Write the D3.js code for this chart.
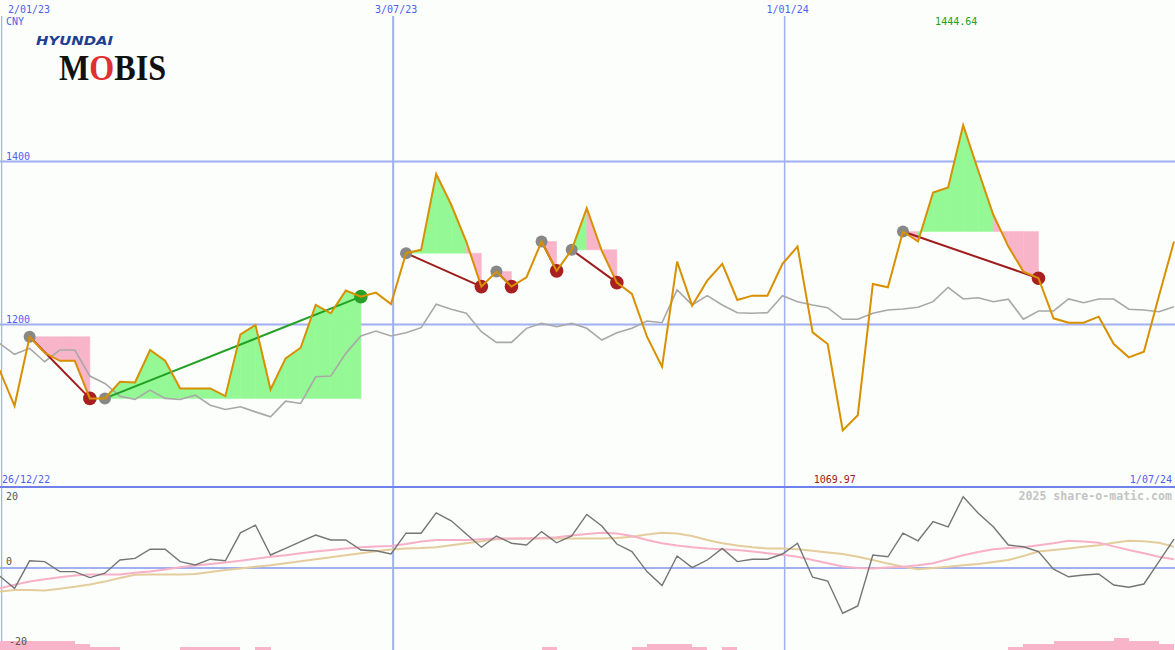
<!DOCTYPE html>
<html><head><meta charset="utf-8">
<script src="https://cdn.jsdelivr.net/npm/d3@7"></script>
<style>html,body{margin:0;padding:0;background:#fbfefb;}svg{display:block;}</style>
</head><body>
<svg id="c" width="1175" height="650"></svg>
<script>
// ---- data ----
const firstWeek = new Date(2023, 0, 1);
const nWeeks = 79;
const price = [1144.1,1100.2,1185.0,1165.3,1155.5,1155.5,1109.3,1109.3,1129.7,1128.9,
 1168.7,1155.5,1121.6,1121.6,1121.6,1112.1,1188.0,1199.4,1120.3,1158.4,
 1171.5,1224.0,1213.8,1241.6,1234.2,1239.1,1225.2,1287.5,1291.6,1384.6,
 1346.9,1301.8,1246.5,1264.9,1246.5,1258.0,1301.8,1265.8,1291.6,1342.8,
 1290.4,1251.4,1237.5,1185.0,1148.1,1277.2,1223.1,1253.8,1274.4,1230.1,
 1235.4,1235.4,1274.4,1295.6,1190.4,1176.0,1069.97,1088.7,1249.8,1245.7,
 1314.1,1301.8,1362.0,1368.2,1444.64,1388.7,1334.6,1295.6,1264.9,1256.8,
 1207.6,1202.2,1202.2,1209.6,1176.0,1159.7,1166.6,1235.0,1301.8];
const avgLine = [1176.9,1163.4,1170.7,1154.3,1168.7,1168.7,1136.7,1127.7,1112.1,1108.0,
 1119.5,1109.3,1108.0,1113.3,1101.0,1095.8,1099.0,1092.8,1086.7,1106.0,
 1103.1,1135.8,1136.7,1164.6,1185.9,1192.0,1185.9,1189.9,1196.1,1224.8,
 1218.7,1213.8,1191.1,1178.1,1178.1,1195.3,1201.5,1197.3,1201.5,1195.3,
 1180.9,1189.9,1195.3,1204.3,1202.2,1242.4,1224.0,1235.4,1224.0,1214.5,
 1213.8,1214.5,1235.4,1228.0,1224.0,1220.7,1206.4,1206.4,1213.8,1217.8,
 1219.1,1221.1,1228.0,1245.7,1231.3,1232.9,1228.0,1231.0,1206.4,1216.6,
 1216.6,1231.3,1226.8,1231.3,1231.3,1218.7,1217.8,1215.7,1221.9];
const momentum = [-2.0,-5.1,1.8,1.6,-0.9,-0.9,-2.4,-1.3,2.0,2.4,
 4.7,4.7,1.6,0.75,2.2,1.8,8.8,10.7,3.25,4.9,
 6.6,8.25,7.0,7.0,4.5,4.3,3.5,8.7,8.7,13.8,
 11.8,8.5,5.2,8.0,6.2,5.75,9.1,6.3,8.0,13.4,
 10.5,6.0,4.1,-0.9,-4.4,3.0,0.1,2.0,4.9,1.6,
 2.2,2.2,3.5,6.2,-2.3,-3.25,-11.3,-9.5,3.25,2.8,
 8.7,6.8,11.6,10.3,17.8,13.7,10.3,5.75,5.3,4.1,
 -0.3,-2.2,-1.75,-1.5,-4.25,-4.8,-4.0,1.6,7.2];
const signalFast = [-5.1,-4.2,-3.4,-2.8,-2.3,-1.9,-1.6,-1.6,-1.6,-1.2,
 -0.9,-0.4,0.2,0.6,1.0,1.4,1.8,2.3,2.8,3.2,
 3.7,4.1,4.5,4.9,5.2,5.4,5.5,6.0,6.6,7.0,
 7.0,7.0,7.2,7.4,7.4,7.4,7.5,7.7,8.1,8.5,
 8.8,8.6,8.0,7.0,6.2,5.6,5.2,4.9,4.7,4.5,
 4.1,3.7,3.3,2.8,2.0,1.2,0.4,0.0,-0.1,0.1,
 0.3,0.7,1.2,2.2,3.2,4.0,4.7,5.0,5.2,5.7,
 6.2,6.8,6.6,6.3,5.4,4.5,3.7,2.8,2.2];
const signalSlow = [-5.9,-5.5,-5.5,-5.6,-5.2,-4.7,-4.1,-3.4,-2.5,-1.7,
 -1.6,-1.6,-1.6,-1.5,-1.0,-0.5,-0.1,0.3,0.7,1.2,
 1.7,2.2,2.7,3.2,3.7,4.2,4.6,4.9,5.0,5.2,
 5.7,6.2,6.7,7.2,7.3,7.4,7.4,7.4,7.4,7.4,
 7.4,7.5,7.8,8.4,8.8,8.6,8.0,7.0,6.2,5.6,
 5.2,4.9,4.9,4.7,4.3,3.9,3.5,2.8,2.0,1.1,
 0.3,-0.3,0.0,0.3,0.7,1.0,1.5,2.0,3.0,4.1,
 4.5,4.9,5.3,5.7,6.3,6.8,6.7,6.3,5.3];
const volume = [3,3,3,3,3,2,1,1,0,0, 0,0,1,1,1,1,0,1,0,0,
 0,0,0,0,0,0,0,0,0,0, 0,0,0,0,0,0,1,0,0,0,
 0,0,1,2,2,2,1,0,1,0, 0,0,0,0,0,0,0,0,0,0,
 0,0,0,0,0,0,0,1,2,2, 3,3,3,3,4,3,3,2,0];
const tradeEntry = [2, 7, 27, 33, 36, 38, 60];
const tradeExit  = [6, 24, 32, 34, 37, 41, 69];
const gridDates = ["2023-01-02","2023-07-03","2024-01-01"];
const gridLabels = ["2/01/23","3/07/23","1/01/24"];
const priceTicks = [1200, 1400];
const momTicks = [20, 0, -20];
const currency = "CNY";
const rangeLabels = ["26/12/22","1/07/24"];
const credit = "2025 share-o-matic.com";

// ---- scales ----
const weeks = d3.range(nWeeks).map(i => d3.timeDay.offset(firstWeek, 7*i));
const x = d3.scaleTime().domain([weeks[0], weeks[nWeeks-1]]).range([-0.5, 1174]);
const y = d3.scaleLinear().domain([1200, 1400]).range([324.5, 161.5]);
const yb = d3.scaleLinear().domain([-20, 20]).range([648, 488]);
const yv = d3.scaleLinear().domain([0, 4]).range([650, 638]);

const svg = d3.select("#c");
const MONO = "'DejaVu Sans Mono', monospace";
const GRID = "#a0b0f0", LBL = "#5060f0";

svg.append("rect").attr("width",1175).attr("height",650).attr("fill","#fbfefb");

// ---- grid ----
const parse = d3.timeParse("%Y-%m-%d");
const gx = gridDates.map(d => x(parse(d)));
svg.append("g").selectAll("line").data(gx).join("line")
  .attr("x1", d=>d).attr("x2", d=>d).attr("y1",16).attr("y2",650)
  .attr("stroke", GRID).attr("stroke-width", (d,i)=> i===0?1.2:(i===1?2:1.5));
svg.append("g").selectAll("line").data(priceTicks).join("line")
  .attr("x1",0).attr("x2",1175).attr("y1",d=>y(d)).attr("y2",d=>y(d))
  .attr("stroke", GRID).attr("stroke-width",2);
svg.append("line").attr("x1",0).attr("x2",1175).attr("y1",yb(0)).attr("y2",yb(0))
  .attr("stroke", GRID).attr("stroke-width",2);
svg.append("line").attr("x1",0).attr("x2",1175).attr("y1",487).attr("y2",487)
  .attr("stroke", "#7080ec").attr("stroke-width",2);

// ---- volume bars ----
svg.append("g").attr("shape-rendering","crispEdges").selectAll("rect")
  .data(volume.map((v,i)=>({v,i})).filter(d=>d.v>0)).join("rect")
  .attr("x", d=>Math.round(x(weeks[d.i])))
  .attr("width", d=> Math.round(d.i+1<nWeeks? x(weeks[d.i+1]) : x(weeks[d.i])+15) - Math.round(x(weeks[d.i])))
  .attr("y", d=>yv(d.v)).attr("height", d=>650-yv(d.v)).attr("fill","#f8b4c8");

// ---- trade fills ----
const fills = svg.append("g");
tradeEntry.forEach((e, t) => {
  const ex = tradeExit[t];
  const ye = y(price[e]);
  for (let k = e; k < ex; k++) {
    const pts = [[x(weeks[k]), ye],[x(weeks[k]), y(price[k])],[x(weeks[k+1]), y(price[k+1])],[x(weeks[k+1]), ye]];
    const col = price[k+1] >= price[e] ? "#94f894" : "#f8b4c8";
    fills.append("path").attr("d", "M" + pts.map(p=>p.join(",")).join("L") + "Z")
      .attr("fill", col).attr("stroke", col).attr("stroke-width",0.5);
  }
});

// ---- lines ----
const lineTop = (arr) => d3.line().x((d,i)=>x(weeks[i])).y(d=>y(d))(arr);
const lineBot = (arr) => d3.line().x((d,i)=>x(weeks[i])).y(d=>yb(d))(arr);
svg.append("path").attr("d", lineBot(signalSlow)).attr("fill","none").attr("stroke","#e4cc9c").attr("stroke-width",2);
svg.append("path").attr("d", lineBot(signalFast)).attr("fill","none").attr("stroke","#f8b0c8").attr("stroke-width",2);
svg.append("path").attr("d", lineBot(momentum)).attr("fill","none").attr("stroke","#757575").attr("stroke-width",1.4);

svg.append("path").attr("d", lineTop(avgLine)).attr("fill","none").attr("stroke","#a8a8a8").attr("stroke-width",1.6);

tradeEntry.forEach((e,t) => {
  const ex = tradeExit[t];
  const win = price[ex] > price[e];
  svg.append("line").attr("x1", x(weeks[e])).attr("y1", y(price[e]))
    .attr("x2", x(weeks[ex])).attr("y2", y(price[ex]))
    .attr("stroke", win ? "#22a022" : "#a01c1c").attr("stroke-width", 2);
});
tradeEntry.forEach((e,t) => {
  const ex = tradeExit[t];
  const win = price[ex] > price[e];
  svg.append("circle").attr("cx", x(weeks[e])).attr("cy", y(price[e])).attr("r",6).attr("fill","#888888");
  svg.append("circle").attr("cx", x(weeks[ex])).attr("cy", y(price[ex])).attr("r",6.8).attr("fill", win ? "#28a028" : "#a82020");
});

svg.append("path").attr("d", lineTop(price)).attr("fill","none").attr("stroke","#d89000").attr("stroke-width",2);

// ---- text ----
const T = (txt, xx, yy, col, opts={}) => svg.append("text").text(txt).attr("x",xx).attr("y",yy)
  .attr("fill",col).attr("font-family", opts.family||MONO).attr("font-size", opts.size||10)
  .attr("font-weight", opts.weight||"normal").attr("text-anchor", opts.anchor||"start");

gridLabels.forEach((s,i) => {
  const t = T(s, 0, 13, LBL);
  const w = t.node().getComputedTextLength();
  t.attr("x", Math.max(8, gx[i] + 3 - w/2));
});
T(currency, 6, 25, LBL);
priceTicks.forEach(v => T(String(v), 6, y(v)-2, LBL));
T(rangeLabels[0], 2, 483, LBL);
T(rangeLabels[1], 1172, 483, LBL, {anchor:"end"});
const maxI = d3.maxIndex(price), minI = d3.minIndex(price);
T(d3.format(".2f")(price[maxI]), x(weeks[maxI]) - 7, 25, "#20a020", {anchor:"middle"});
T(d3.format(".2f")(price[minI]), x(weeks[minI]) - 8, 483, "#a01818", {anchor:"middle"});
T(credit, 1172, 500, "#c4c4c4", {anchor:"end", weight:"bold", size:11.6});
momTicks.forEach(v => {
  const yy = Math.max(499.5, yb(v) - 3);
  T(String(v), v < 0 ? 9 : 6, yy, "#555555");
});

// ---- logo ----
svg.append("text").text("HYUNDAI").attr("x",36).attr("y",44.8)
  .attr("font-family","'DejaVu Sans', sans-serif").attr("font-weight","bold").attr("font-style","italic")
  .attr("font-size",12).attr("fill","#1f3f93").attr("textLength",77).attr("lengthAdjust","spacingAndGlyphs");
const mob = svg.append("text").attr("x",59).attr("y",79.5)
  .attr("font-family","'Liberation Serif', serif").attr("font-weight","bold").attr("font-size",35).attr("fill","#111")
  .attr("textLength",107).attr("lengthAdjust","spacingAndGlyphs");
mob.append("tspan").text("M");
mob.append("tspan").text("O").attr("fill","#e03030");
mob.append("tspan").text("BIS");
</script>
</body></html>
